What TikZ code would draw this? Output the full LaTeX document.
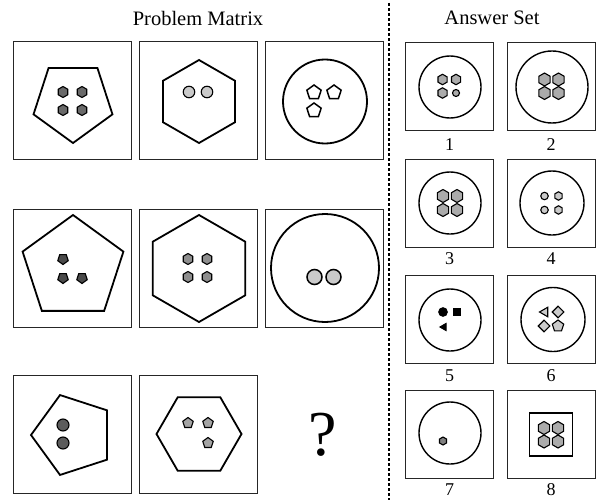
\documentclass[tikz,border=0pt]{standalone}
\usepackage{fontspec}
\setmainfont{Liberation Serif}
\usetikzlibrary{shapes.geometric}

\definecolor{darkfill}{HTML}{4A4A4A}
\definecolor{midfill}{HTML}{6A6A6A}
\definecolor{greyfill}{HTML}{8E8E8E}
\definecolor{softfill}{HTML}{ABABAB}
\definecolor{lightfill}{HTML}{CACACA}

\begin{document}
\begin{tikzpicture}[
            x=1pt, y=-1pt,
            cell/.style={
                draw=black!85,
                line width=0.9pt,
                minimum size=118pt,
                inner sep=0pt
            },
            anscell/.style={cell, minimum size=88pt},
            outline/.style={draw, line width=1.8pt, inner sep=0pt},
            penta/.style={outline, regular polygon, regular polygon sides=5},
            hexa/.style={outline, regular polygon, regular polygon sides=6},
            ring/.style={outline, circle, line width=1.4pt},
            dot/.style={draw, line width=1.1pt, inner sep=0pt},
            hexdot/.style={dot, regular polygon, regular polygon sides=6,
                regular polygon rotate=30},
            pentdot/.style={dot, regular polygon, regular polygon sides=5},
            rounddot/.style={dot, circle},
            title/.style={font=\fontsize{20.5}{24}\selectfont},
            number/.style={font=\fontsize{18}{20}\selectfont, inner sep=0pt}
        ]

            \useasboundingbox (0, 0) rectangle (596, 500);

            % headings and separator
            \node[title] (ptitle) at (198, 18) {Problem Matrix};
            \node[title] (atitle) at (492, 18) {Answer Set};
            \coordinate (septop) at (389, 3);
            \coordinate (sepbot) at (389, 500);
            \draw[line width=1.3pt, dash pattern=on 3pt off 2pt] (septop) -- (sepbot);

            % problem matrix, row 1
            \node[cell] (m11) at (72, 100.5) {};
            \node[cell] (m12) at (198, 100.5) {};
            \node[cell] (m13) at (324, 100.5) {};

            \node[penta, minimum size=83pt, regular polygon rotate=180] (m11s) at (73, 101.5) {};
            \node[hexdot, fill=midfill, minimum size=11pt] (m11a) at (63, 92) {};
            \node[hexdot, fill=midfill, minimum size=11pt] (m11b) at (82, 92) {};
            \node[hexdot, fill=midfill, minimum size=11pt] (m11c) at (63, 110) {};
            \node[hexdot, fill=midfill, minimum size=11pt] (m11d) at (82, 110) {};

            \node[hexa, minimum size=83pt, regular polygon rotate=30] (m12s) at (199, 101.5) {};
            \node[rounddot, fill=lightfill, minimum size=11.5pt] (m12a) at (189, 92) {};
            \node[rounddot, fill=lightfill, minimum size=11.5pt] (m12b) at (207, 92) {};

            \node[ring, line width=1.8pt, minimum size=84pt] (m13s) at (325, 101.5) {};
            \node[pentdot, fill=white, line width=1.5pt, minimum size=15pt] (m13a) at (314, 92.5) {};
            \node[pentdot, fill=white, line width=1.5pt, minimum size=15pt] (m13b) at (334, 92.5) {};
            \node[pentdot, fill=white, line width=1.5pt, minimum size=15pt] (m13c) at (314, 110.5) {};

            % problem matrix, row 2
            \node[cell] (m21) at (72, 268) {};
            \node[cell] (m22) at (198, 268) {};
            \node[cell] (m23) at (324, 268) {};

            \node[penta, minimum size=106pt] (m21s) at (73, 268) {};
            \node[pentdot, fill=darkfill, minimum size=11pt, regular polygon rotate=180] (m21a) at (63, 259) {};
            \node[pentdot, fill=darkfill, minimum size=11pt, regular polygon rotate=180] (m21b) at (63, 278) {};
            \node[pentdot, fill=darkfill, minimum size=11pt, regular polygon rotate=180] (m21c) at (82, 278) {};

            \node[hexa, minimum size=107pt, regular polygon rotate=30] (m22s) at (199, 268.5) {};
            \node[hexdot, fill=greyfill, minimum size=11pt] (m22a) at (188, 259) {};
            \node[hexdot, fill=greyfill, minimum size=11pt] (m22b) at (207, 259) {};
            \node[hexdot, fill=greyfill, minimum size=11pt] (m22c) at (188, 277) {};
            \node[hexdot, fill=greyfill, minimum size=11pt] (m22d) at (207, 277) {};

            \node[ring, line width=1.8pt, minimum size=108pt] (m23s) at (325, 268) {};
            \node[rounddot, fill=lightfill, line width=1.5pt, minimum size=15pt] (m23a) at (314.5, 277) {};
            \node[rounddot, fill=lightfill, line width=1.5pt, minimum size=15pt] (m23b) at (333.5, 277) {};

            % problem matrix, row 3
            \node[cell] (m31) at (72, 434) {};
            \node[cell] (m32) at (198, 434) {};

            \node[penta, minimum size=84pt, regular polygon rotate=90] (m31s) at (73, 435) {};
            \node[rounddot, fill=darkfill!90, minimum size=12pt] (m31a) at (63, 425) {};
            \node[rounddot, fill=darkfill!90, minimum size=12pt] (m31b) at (63, 443) {};

            \node[hexa, minimum size=85pt] (m32s) at (199, 434) {};
            \node[pentdot, fill=greyfill!80, minimum size=11pt] (m32a) at (188, 423) {};
            \node[pentdot, fill=greyfill!80, minimum size=11pt] (m32b) at (208, 423) {};
            \node[pentdot, fill=greyfill!80, minimum size=11pt] (m32c) at (208, 443) {};

            \node[font=\fontsize{64}{64}\selectfont] (qmark) at (323, 435) {?};

            % answer set
            \node[anscell] (a1) at (449.5, 86.5) {};
            \node[anscell] (a2) at (551, 86.5) {};
            \node[anscell] (a3) at (449.5, 203) {};
            \node[anscell] (a4) at (551, 203) {};
            \node[anscell] (a5) at (449.5, 319) {};
            \node[anscell] (a6) at (551, 319) {};
            \node[anscell] (a7) at (449.5, 434.5) {};
            \node[anscell] (a8) at (551, 434.5) {};

            \node[number] (n1) at (449.5, 145) {1};
            \node[number] (n2) at (551, 145) {2};
            \node[number] (n3) at (449.5, 259) {3};
            \node[number] (n4) at (551, 259) {4};
            \node[number] (n5) at (449.5, 376) {5};
            \node[number] (n6) at (551, 376) {6};
            \node[number] (n7) at (449.5, 490) {7};
            \node[number] (n8) at (551, 490) {8};

            % answer 1
            \node[ring, minimum size=62pt] (a1s) at (450, 87) {};
            \node[hexdot, fill=softfill, minimum size=10.5pt] (a1a) at (442.5, 79.5) {};
            \node[hexdot, fill=softfill, minimum size=10.5pt] (a1b) at (456, 79.5) {};
            \node[hexdot, fill=softfill, minimum size=10.5pt] (a1c) at (442.5, 93) {};
            \node[rounddot, fill=softfill, minimum size=7pt] (a1d) at (456, 93) {};

            % answer 2
            \node[ring, minimum size=72pt] (a2s) at (552, 87) {};
            \node[hexdot, fill=softfill, minimum size=13pt] (a2a) at (544.5, 79.5) {};
            \node[hexdot, fill=softfill, minimum size=13pt] (a2b) at (558.5, 79.5) {};
            \node[hexdot, fill=softfill, minimum size=13pt] (a2c) at (544.5, 93) {};
            \node[hexdot, fill=softfill, minimum size=13pt] (a2d) at (558.5, 93) {};

            % answer 3
            \node[ring, minimum size=62pt] (a3s) at (450, 203) {};
            \node[hexdot, fill=softfill, minimum size=13pt] (a3a) at (443, 196) {};
            \node[hexdot, fill=softfill, minimum size=13pt] (a3b) at (457, 196) {};
            \node[hexdot, fill=softfill, minimum size=13pt] (a3c) at (443, 210) {};
            \node[hexdot, fill=softfill, minimum size=13pt] (a3d) at (457, 210) {};

            % answer 4
            \node[ring, minimum size=64pt] (a4s) at (552, 203) {};
            \node[rounddot, fill=lightfill, minimum size=7.5pt] (a4a) at (544.5, 196) {};
            \node[hexdot, fill=lightfill, minimum size=8.5pt] (a4b) at (558.5, 196) {};
            \node[rounddot, fill=lightfill, minimum size=7.5pt] (a4c) at (544.5, 210) {};
            \node[hexdot, fill=lightfill, minimum size=8.5pt] (a4d) at (558.5, 210) {};

            % answer 5
            \node[ring, minimum size=62pt] (a5s) at (450, 320) {};
            \node[rounddot, fill=black, minimum size=8.5pt] (a5a) at (443, 312) {};
            \node[dot, fill=black, minimum size=7pt] (a5b) at (457, 312) {};
            \node[dot, fill=black, regular polygon, regular polygon sides=3,
                regular polygon rotate=90, minimum size=8pt] (a5c) at (444, 327) {};

            % answer 6
            \node[ring, minimum size=64pt] (a6s) at (553, 319.5) {};
            \node[dot, fill=lightfill, regular polygon, regular polygon sides=3,
                regular polygon rotate=90, minimum size=11pt] (a6a) at (545, 312) {};
            \node[dot, fill=lightfill, diamond, minimum size=12pt] (a6b) at (558, 312) {};
            \node[dot, fill=lightfill, diamond, minimum size=12pt] (a6c) at (544, 326) {};
            \node[pentdot, fill=lightfill, minimum size=12pt] (a6d) at (558, 326) {};

            % answer 7
            \node[ring, minimum size=62pt] (a7s) at (450, 433) {};
            \node[hexdot, fill=midfill!85, minimum size=8pt] (a7a) at (443, 441) {};

            % answer 8
            \node[outline, line width=1.4pt, minimum size=43pt] (a8s) at (551, 434.5) {};
            \node[hexdot, fill=softfill, minimum size=13pt] (a8a) at (544, 428) {};
            \node[hexdot, fill=softfill, minimum size=13pt] (a8b) at (558, 428) {};
            \node[hexdot, fill=softfill, minimum size=13pt] (a8c) at (544, 441.5) {};
            \node[hexdot, fill=softfill, minimum size=13pt] (a8d) at (558, 441.5) {};

        \end{tikzpicture}
\end{document}
